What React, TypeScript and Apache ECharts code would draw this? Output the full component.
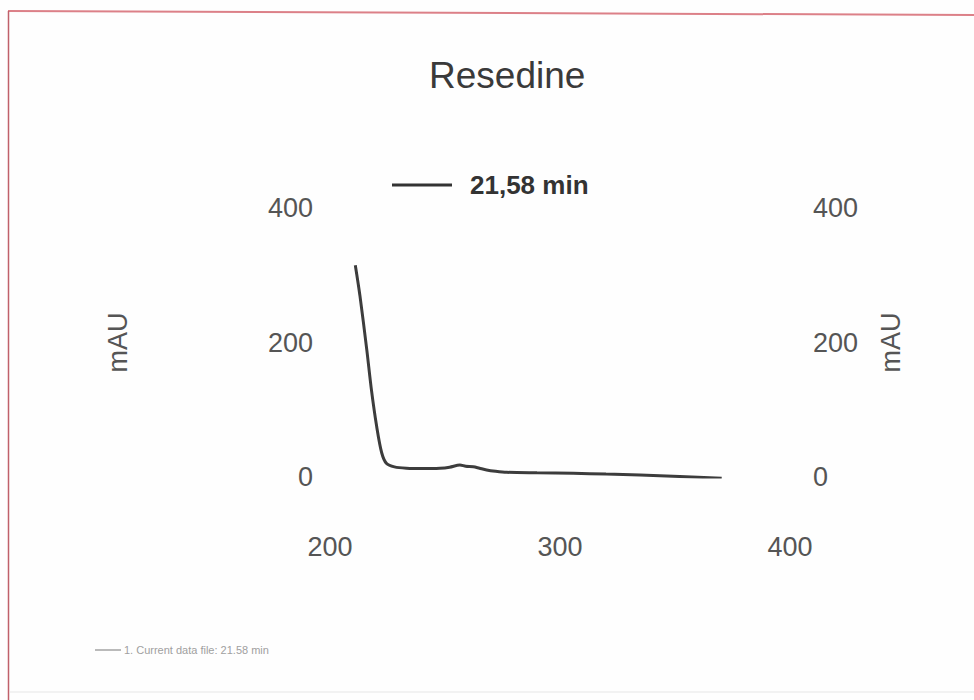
import React, { useEffect, useRef } from "react";
import * as echarts from "echarts";

// UV spectrum of the peak at 21,58 min (wavelength in nm vs absorbance in mAU)
const wavelength = [211, 213, 216, 218, 220.3, 222.5, 224.6, 228, 233.3, 240, 247.8, 252, 256.5, 259, 262.3, 265, 268.1, 272, 276.8, 290, 305.8, 320, 334.8, 352, 370.3];
const absorbance = [315, 270, 189, 130, 75, 35.7, 20, 15, 13, 12.5, 13, 14.5, 17.8, 16, 15.3, 13, 10.4, 8.5, 7, 6.2, 5.5, 4.3, 3, 0.8, -2];

const xTicks = { min: 200, max: 400, step: 100 };
const yTicks = { min: 0, max: 400, step: 200 };

const seriesName = "21,58 min";
const titleText = "Resedine";
const footNote = "1. Current data file: 21.58 min";
const unitLabel = "mAU";

export default function App() {
  const ref = useRef<HTMLDivElement>(null);

  useEffect(() => {
    if (!ref.current) return;
    const chart = echarts.init(ref.current, undefined, { renderer: "svg" });
    const font = "'Liberation Sans', Arial, sans-serif";
    const tickLabel = { color: "#555", fontSize: 27, fontFamily: font };
    const unitStyle = { color: "#555", fontSize: 27, fontFamily: font };
    chart.setOption({
      animation: false,
      backgroundColor: "#fefefe",
      title: {
        text: titleText,
        left: 424,
        top: 52,
        textStyle: { color: "#3a3a3a", fontSize: 37, fontWeight: "normal", fontFamily: font },
      },
      legend: {
        left: 387,
        top: 167,
        itemWidth: 60,
        itemHeight: 3,
        data: [{ name: seriesName, icon: "rect" }],
        itemStyle: { color: "#333" },
        textStyle: {
          color: "#333",
          fontSize: 26,
          fontWeight: "bold",
          fontFamily: font,
          padding: [0, 0, 0, 13],
        },
      },
      grid: { left: 330, right: 184, top: 208, bottom: 223 },
      xAxis: {
        type: "value",
        min: xTicks.min,
        max: xTicks.max,
        interval: xTicks.step,
        axisLine: { show: false },
        axisTick: { show: false },
        splitLine: { show: false },
        axisLabel: { ...tickLabel, margin: 56 },
      },
      yAxis: [
        {
          type: "value",
          position: "left",
          min: yTicks.min,
          max: yTicks.max,
          interval: yTicks.step,
          axisLine: { show: false },
          axisTick: { show: false },
          splitLine: { show: false },
          axisLabel: { ...tickLabel, margin: 17 },
          name: unitLabel,
          nameLocation: "middle",
          nameRotate: 90,
          nameGap: 199,
          nameTextStyle: unitStyle,
        },
        {
          type: "value",
          position: "right",
          min: yTicks.min,
          max: yTicks.max,
          interval: yTicks.step,
          axisLine: { show: false },
          axisTick: { show: false },
          splitLine: { show: false },
          axisLabel: { ...tickLabel, margin: 23 },
          name: unitLabel,
          nameLocation: "middle",
          nameRotate: 90,
          nameGap: 87,
          nameTextStyle: unitStyle,
        },
      ],
      series: [
        {
          name: seriesName,
          type: "line",
          yAxisIndex: 0,
          data: wavelength.map((w, i) => [w, absorbance[i]]),
          showSymbol: false,
          symbol: "none",
          smooth: 0.3,
          lineStyle: { color: "#3c3c3c", width: 3 },
          itemStyle: { color: "#3c3c3c" },
        },
      ],
      graphic: [
        // page border lines along the top and left edge
        {
          type: "line",
          shape: { x1: 8, y1: 11, x2: 974, y2: 15 },
          style: { stroke: "#dc8088", lineWidth: 2 },
        },
        {
          type: "line",
          shape: { x1: 8.5, y1: 11, x2: 8.5, y2: 700 },
          style: { stroke: "#c0606a", lineWidth: 1.5 },
        },
        {
          type: "line",
          shape: { x1: 10, y1: 692, x2: 974, y2: 692 },
          style: { stroke: "#eeeeee", lineWidth: 1.5 },
        },
        // small trace key at the bottom
        {
          type: "line",
          shape: { x1: 95, y1: 650, x2: 121, y2: 650 },
          style: { stroke: "#777", lineWidth: 1 },
        },
        {
          type: "text",
          x: 124,
          y: 650,
          style: {
            text: footNote,
            fill: "#a0a0a0",
            fontSize: 11,
            fontFamily: font,
            verticalAlign: "middle",
          },
        },
      ],
    });
    return () => chart.dispose();
  }, []);

  return (
    <div
      ref={ref}
      style={{ position: "fixed", left: 0, top: 0, width: 974, height: 700 }}
    />
  );
}
